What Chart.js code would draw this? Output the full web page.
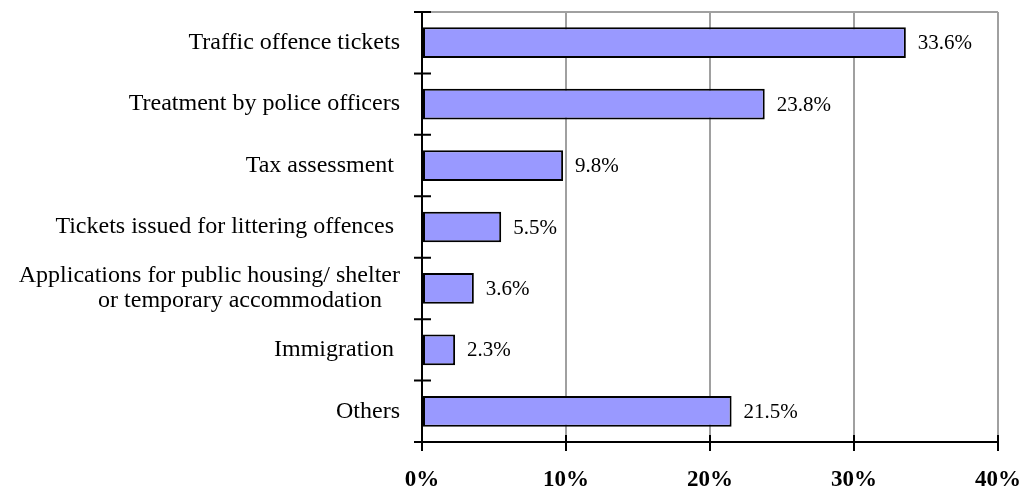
<!DOCTYPE html>
<html>
<head>
<meta charset="utf-8">
<script src="https://cdn.jsdelivr.net/npm/chart.js@4/dist/chart.umd.min.js"></script>
<style>
  html, body { margin: 0; padding: 0; background: #fff; }
  #wrap { width: 1029px; height: 494px; }
</style>
</head>
<body>
<div id="wrap"><canvas id="chart" width="1029" height="494"></canvas></div>
<script>
const categories = [
  'Traffic offence tickets',
  'Treatment by police officers',
  'Tax assessment ',
  'Tickets issued for littering offences ',
  ['Applications for public housing/ shelter', 'or temporary accommodation   '],
  'Immigration ',
  'Others'
];
const shares = [33.6, 23.8, 9.8, 5.5, 3.6, 2.3, 21.5];
const xTicks = [0, 10, 20, 30, 40];

const SERIF = '"Liberation Serif", "Times New Roman", serif';

// crossing ticks, top border and value labels
const extras = {
  id: 'extras',
  afterDraw(chart) {
    const { ctx, chartArea: a, scales } = chart;
    ctx.save();
    // top border (grey)
    ctx.strokeStyle = '#a0a0a0';
    ctx.lineWidth = 2;
    ctx.beginPath();
    ctx.moveTo(a.left, a.top);
    ctx.lineTo(a.right, a.top);
    ctx.stroke();

    ctx.strokeStyle = '#000';
    ctx.lineWidth = 2;
    ctx.beginPath();
    const n = categories.length;
    for (let i = 0; i <= n; i++) {
      const y = a.top + (a.bottom - a.top) * i / n;
      ctx.moveTo(a.left - 8, y);
      ctx.lineTo(a.left + 9, y);
    }
    xTicks.forEach((t) => {
      const x = scales.x.getPixelForValue(t);
      ctx.moveTo(x, a.bottom - 7);
      ctx.lineTo(x, a.bottom + 9);
    });
    ctx.stroke();

    // value labels
    ctx.fillStyle = '#000';
    ctx.font = '21px ' + SERIF;
    ctx.textAlign = 'left';
    ctx.textBaseline = 'middle';
    const meta = chart.getDatasetMeta(0);
    meta.data.forEach((bar, i) => {
      ctx.fillText(shares[i].toFixed(1) + '%', bar.x + 12, bar.y + 1);
    });
    ctx.restore();
  }
};

new Chart(document.getElementById('chart'), {
  type: 'bar',
  data: {
    labels: categories,
    datasets: [{
      data: shares,
      backgroundColor: '#9999ff',
      borderColor: '#000',
      borderWidth: 2,
      borderSkipped: false,
      barPercentage: 0.5,
      categoryPercentage: 1
    }]
  },
  options: {
    indexAxis: 'y',
    responsive: false,
    animation: false,
    layout: { padding: { top: 12, right: 31, left: 0, bottom: 0 } },
    plugins: {
      legend: { display: false },
      tooltip: { enabled: false }
    },
    scales: {
      x: {
        min: 0,
        max: 40,
        afterBuildTicks: (scale) => { scale.ticks = xTicks.map((v) => ({ value: v })); },
        afterFit: (scale) => {
          scale.height = 52;
          scale.paddingLeft = 0;
          scale.paddingRight = 0;
        },
        grid: {
          color: (c) => (c.tick && c.tick.value === 0 ? 'rgba(0,0,0,0)' : '#a0a0a0'),
          lineWidth: 2,
          drawTicks: false
        },
        border: { color: '#000', width: 2 },
        ticks: {
          padding: 24,
          color: '#000',
          font: { family: SERIF, size: 23, weight: 'bold' },
          callback: (v) => v + '%'
        }
      },
      y: {
        afterFit: (scale) => {
          scale.width = 422;
          scale.paddingTop = 0;
          scale.paddingBottom = 0;
        },
        grid: { display: false, drawTicks: false },
        border: { color: '#000', width: 2 },
        ticks: {
          padding: 22,
          color: '#000',
          font: { family: SERIF, size: 24, lineHeight: 1.05 }
        }
      }
    }
  },
  plugins: [extras]
});
</script>
</body>
</html>
